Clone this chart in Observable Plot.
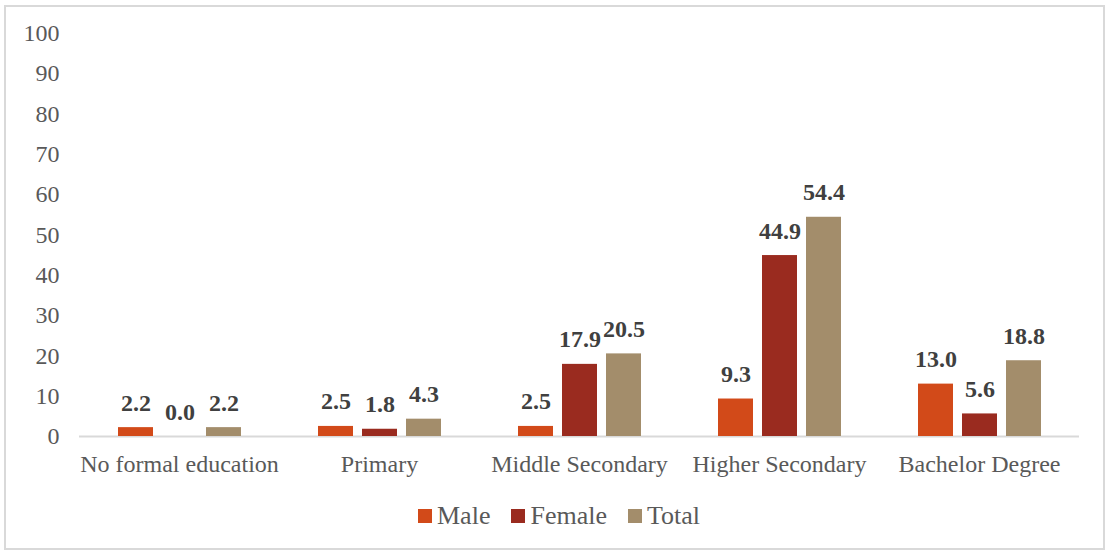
<!DOCTYPE html>
<html>
<head>
<meta charset="utf-8">
<script src="https://cdn.jsdelivr.net/npm/d3@7"></script>
<script src="https://cdn.jsdelivr.net/npm/@observablehq/plot@0.6"></script>
<style>
  html, body { margin: 0; padding: 0; background: #fff; }
  #wrap { position: relative; width: 1107px; height: 552px; overflow: hidden; font-family: "Liberation Serif", "Times New Roman", serif; }
  #frame { position: absolute; left: 4px; top: 5px; width: 1097px; height: 541px; border: 2px solid #d9d9d9; pointer-events: none; }
  #legend { position: absolute; left: 418px; top: 503px; display: flex; align-items: center; font-size: 26px; color: #595959; line-height: 1; }
  .item { display: flex; align-items: center; margin-right: 21px; }
  .sw { width: 14px; height: 14px; margin-right: 5px; }
</style>
</head>
<body>
<div id="wrap">
  <div id="chart"></div>
  <div id="legend"></div>
  <div id="frame"></div>
</div>
<script>
const categories = ["No formal education", "Primary", "Middle Secondary", "Higher Secondary", "Bachelor Degree"];
const series = ["Male", "Female", "Total"];
const male = [2.2, 2.5, 2.5, 9.3, 13.0];
const female = [0.0, 1.8, 17.9, 44.9, 5.6];
const total = [2.2, 4.3, 20.5, 54.4, 18.8];
const colors = ["#D24A19", "#9A2B1F", "#A38D6B"];
const yTicks = [0, 10, 20, 30, 40, 50, 60, 70, 80, 90, 100];

const valuesBySeries = [male, female, total];
const rows = [];
categories.forEach((c, i) => {
  series.forEach((s, j) => rows.push({cat: c, series: s, value: valuesBySeries[j][i]}));
});

const chart = Plot.plot({
  width: 1107,
  height: 495,
  marginLeft: 78,
  marginRight: 28,
  marginTop: 33,
  marginBottom: 59,
  style: {fontFamily: '"Liberation Serif", "Times New Roman", serif', fontSize: "24px", color: "#595959", background: "transparent", overflow: "visible"},
  fx: {domain: categories, padding: 0, label: null, axis: "bottom", tickSize: 0, tickPadding: 18},
  x: {domain: series, axis: null, paddingInner: 0.21, paddingOuter: 0.86},
  y: {domain: [0, 100], ticks: yTicks, tickSize: 0, tickPadding: 20, label: null},
  color: {domain: series, range: colors},
  marks: [
    Plot.ruleY([0], {stroke: "#d9d9d9", strokeWidth: 2}),
    Plot.barY(rows, {fx: "cat", x: "series", y: "value", fill: "series"}),
    Plot.text(rows, {fx: "cat", x: "series", y: "value", text: d => d.value.toFixed(1), lineAnchor: "bottom", dy: -17, fontWeight: "bold", fontSize: 24, fill: "#404040"})
  ]
});
document.getElementById("chart").appendChild(chart);

const legend = document.getElementById("legend");
series.forEach((s, j) => {
  const item = document.createElement("div");
  item.className = "item";
  const sw = document.createElement("div");
  sw.className = "sw";
  sw.style.background = colors[j];
  const t = document.createElement("span");
  t.textContent = s;
  item.appendChild(sw);
  item.appendChild(t);
  legend.appendChild(item);
});
</script>
</body>
</html>
